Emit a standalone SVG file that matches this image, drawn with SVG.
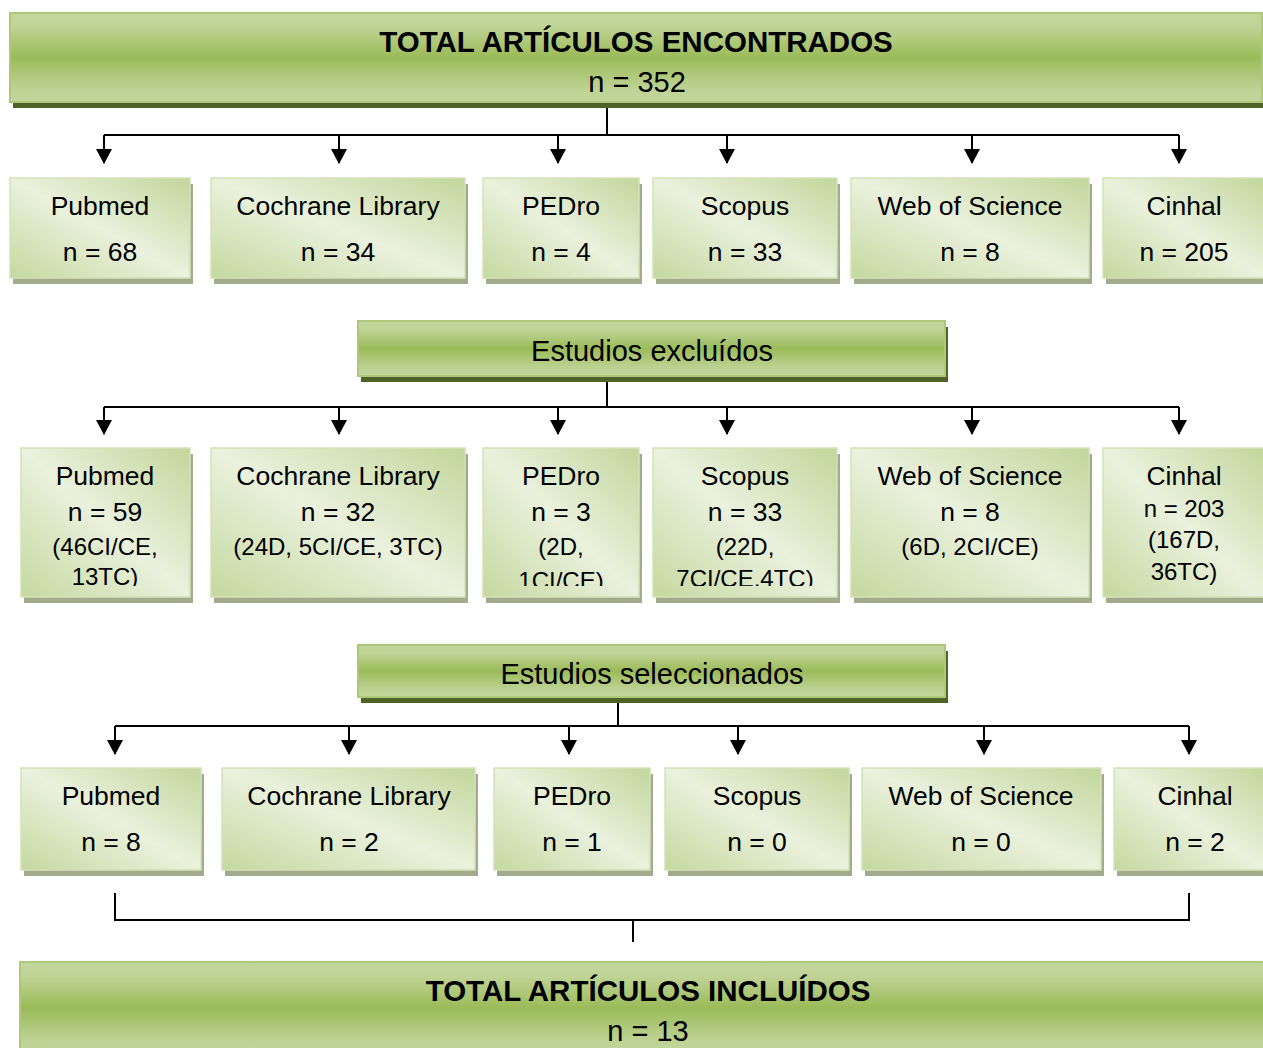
<svg xmlns="http://www.w3.org/2000/svg" width="1263" height="1048" viewBox="0 0 1263 1048">
<style>
text{font-family:"Liberation Sans",Arial,sans-serif;fill:#000;text-anchor:middle}
.h{font-size:29px}
.hb{font-size:29.5px;font-weight:bold}
.t{font-size:26.5px}
.s{font-size:24px}
.hdr{fill:url(#gH);stroke:#adc879;stroke-width:2}
.hsh{fill:#4f6228}
.box{fill:url(#gB);stroke:#d4e2b8;stroke-width:1.5}
.bsh{fill:#a2ab8c}
.ln{fill:none;stroke:#000;stroke-width:2}
.ar{fill:none;stroke:#000;stroke-width:2;marker-end:url(#arr)}
</style>
<defs>
<linearGradient id="gH" x1="0" y1="0" x2="0" y2="1">
<stop offset="0" stop-color="#c3d79d"/>
<stop offset="0.15" stop-color="#c0d497"/>
<stop offset="0.5" stop-color="#9bbb59"/>
<stop offset="0.85" stop-color="#bdd293"/>
<stop offset="1" stop-color="#c3d79d"/>
</linearGradient>
<linearGradient id="gB" x1="1" y1="0" x2="0" y2="1">
<stop offset="0" stop-color="#c2d69b"/>
<stop offset="0.5" stop-color="#eaf1dd"/>
<stop offset="1" stop-color="#c5d89f"/>
</linearGradient>
<marker id="arr" markerUnits="userSpaceOnUse" markerWidth="16" markerHeight="16" refX="14" refY="8" orient="auto">
<path d="M0,0 L15,8 L0,16 Z" fill="#000"/>
</marker>
<clipPath id="clip2"><rect x="0" y="440" width="1263" height="146"/></clipPath>
</defs>

<g id="connectors">
<path class="ln" d="M607,104 V135 M104,135 H1179"/>
<path class="ar" d="M104,135 V163"/>
<path class="ar" d="M339,135 V163"/>
<path class="ar" d="M558,135 V163"/>
<path class="ar" d="M727,135 V163"/>
<path class="ar" d="M972,135 V163"/>
<path class="ar" d="M1179,135 V163"/>
<path class="ln" d="M607,377 V407 M104,407 H1179"/>
<path class="ar" d="M104,407 V434"/>
<path class="ar" d="M339,407 V434"/>
<path class="ar" d="M558,407 V434"/>
<path class="ar" d="M727,407 V434"/>
<path class="ar" d="M972,407 V434"/>
<path class="ar" d="M1179,407 V434"/>
<path class="ln" d="M618,699 V726 M115,726 H1189"/>
<path class="ar" d="M115,726 V754"/>
<path class="ar" d="M349,726 V754"/>
<path class="ar" d="M569,726 V754"/>
<path class="ar" d="M738,726 V754"/>
<path class="ar" d="M984,726 V754"/>
<path class="ar" d="M1189,726 V754"/>
<path class="ln" d="M115,893 V920 H1189 V893 M633,920 V942"/>
</g>

<g id="total-encontrados">
<rect class="hsh" x="13" y="19" width="1252" height="89"/>
<rect class="hdr" x="10" y="13" width="1252" height="89"/>
<text class="hb" x="636" y="52">TOTAL ARTÍCULOS ENCONTRADOS</text>
<text class="h" x="637" y="92">n = 352</text>
</g>

<g id="r1-pubmed"><rect class="bsh" x="13" y="184" width="180" height="100"/><rect class="box" x="10" y="178" width="180" height="100"/><text class="t" x="100" y="215">Pubmed</text><text class="t" x="100" y="261">n = 68</text></g>
<g id="r1-cochrane"><rect class="bsh" x="214" y="184" width="254" height="100"/><rect class="box" x="211" y="178" width="254" height="100"/><text class="t" x="338" y="215">Cochrane Library</text><text class="t" x="338" y="261">n = 34</text></g>
<g id="r1-pedro"><rect class="bsh" x="486" y="184" width="156" height="100"/><rect class="box" x="483" y="178" width="156" height="100"/><text class="t" x="561" y="215">PEDro</text><text class="t" x="561" y="261">n = 4</text></g>
<g id="r1-scopus"><rect class="bsh" x="656" y="184" width="184" height="100"/><rect class="box" x="653" y="178" width="184" height="100"/><text class="t" x="745" y="215">Scopus</text><text class="t" x="745" y="261">n = 33</text></g>
<g id="r1-wos"><rect class="bsh" x="854" y="184" width="238" height="100"/><rect class="box" x="851" y="178" width="238" height="100"/><text class="t" x="970" y="215">Web of Science</text><text class="t" x="970" y="261">n = 8</text></g>
<g id="r1-cinhal"><rect class="bsh" x="1106" y="184" width="160" height="100"/><rect class="box" x="1103" y="178" width="162" height="100"/><text class="t" x="1184" y="215">Cinhal</text><text class="t" x="1184" y="261">n = 205</text></g>

<g id="excluidos">
<rect class="hsh" x="361" y="327" width="587" height="55"/>
<rect class="hdr" x="358" y="321" width="587" height="55"/>
<text class="h" x="652" y="361">Estudios excluídos</text>
</g>

<g id="r2-pubmed"><rect class="bsh" x="24" y="454" width="169" height="149"/><rect class="box" x="21" y="448" width="169" height="149"/><g clip-path="url(#clip2)"><text class="t" x="105" y="485">Pubmed</text><text class="t" x="105" y="521">n = 59</text><text class="s" x="105" y="555">(46CI/CE,</text><text class="s" x="105" y="585">13TC)</text></g></g>
<g id="r2-cochrane"><rect class="bsh" x="214" y="454" width="254" height="149"/><rect class="box" x="211" y="448" width="254" height="149"/><text class="t" x="338" y="485">Cochrane Library</text><text class="t" x="338" y="521">n = 32</text><text class="s" x="338" y="555">(24D, 5CI/CE, 3TC)</text></g>
<g id="r2-pedro"><rect class="bsh" x="486" y="454" width="156" height="149"/><rect class="box" x="483" y="448" width="156" height="149"/><g clip-path="url(#clip2)"><text class="t" x="561" y="485">PEDro</text><text class="t" x="561" y="521">n = 3</text><text class="s" x="561" y="555">(2D,</text><text class="s" x="561" y="589">1CI/CE)</text></g></g>
<g id="r2-scopus"><rect class="bsh" x="656" y="454" width="184" height="149"/><rect class="box" x="653" y="448" width="184" height="149"/><g clip-path="url(#clip2)"><text class="t" x="745" y="485">Scopus</text><text class="t" x="745" y="521">n = 33</text><text class="s" x="745" y="555">(22D,</text><text class="s" x="745" y="587">7CI/CE,4TC)</text></g></g>
<g id="r2-wos"><rect class="bsh" x="854" y="454" width="238" height="149"/><rect class="box" x="851" y="448" width="238" height="149"/><text class="t" x="970" y="485">Web of Science</text><text class="t" x="970" y="521">n = 8</text><text class="s" x="970" y="555">(6D, 2CI/CE)</text></g>
<g id="r2-cinhal"><rect class="bsh" x="1106" y="454" width="160" height="149"/><rect class="box" x="1103" y="448" width="162" height="149"/><text class="t" x="1184" y="485">Cinhal</text><text class="s" x="1184" y="517">n = 203</text><text class="s" x="1184" y="548">(167D,</text><text class="s" x="1184" y="580">36TC)</text></g>

<g id="seleccionados">
<rect class="hsh" x="361" y="651" width="587" height="52"/>
<rect class="hdr" x="358" y="645" width="587" height="52"/>
<text class="h" x="652" y="684">Estudios seleccionados</text>
</g>

<g id="r3-pubmed"><rect class="bsh" x="24" y="774" width="180" height="102"/><rect class="box" x="21" y="768" width="180" height="102"/><text class="t" x="111" y="805">Pubmed</text><text class="t" x="111" y="851">n = 8</text></g>
<g id="r3-cochrane"><rect class="bsh" x="225" y="774" width="253" height="102"/><rect class="box" x="222" y="768" width="253" height="102"/><text class="t" x="349" y="805">Cochrane Library</text><text class="t" x="349" y="851">n = 2</text></g>
<g id="r3-pedro"><rect class="bsh" x="497" y="774" width="156" height="102"/><rect class="box" x="494" y="768" width="156" height="102"/><text class="t" x="572" y="805">PEDro</text><text class="t" x="572" y="851">n = 1</text></g>
<g id="r3-scopus"><rect class="bsh" x="668" y="774" width="184" height="102"/><rect class="box" x="665" y="768" width="184" height="102"/><text class="t" x="757" y="805">Scopus</text><text class="t" x="757" y="851">n = 0</text></g>
<g id="r3-wos"><rect class="bsh" x="865" y="774" width="239" height="102"/><rect class="box" x="862" y="768" width="239" height="102"/><text class="t" x="981" y="805">Web of Science</text><text class="t" x="981" y="851">n = 0</text></g>
<g id="r3-cinhal"><rect class="bsh" x="1117" y="774" width="150" height="102"/><rect class="box" x="1114" y="768" width="152" height="102"/><text class="t" x="1195" y="805">Cinhal</text><text class="t" x="1195" y="851">n = 2</text></g>

<g id="total-incluidos">
<rect class="hdr" x="20" y="962" width="1245" height="92"/>
<text class="hb" x="648" y="1001">TOTAL ARTÍCULOS INCLUÍDOS</text>
<text class="h" x="648" y="1041">n = 13</text>
</g>
</svg>
